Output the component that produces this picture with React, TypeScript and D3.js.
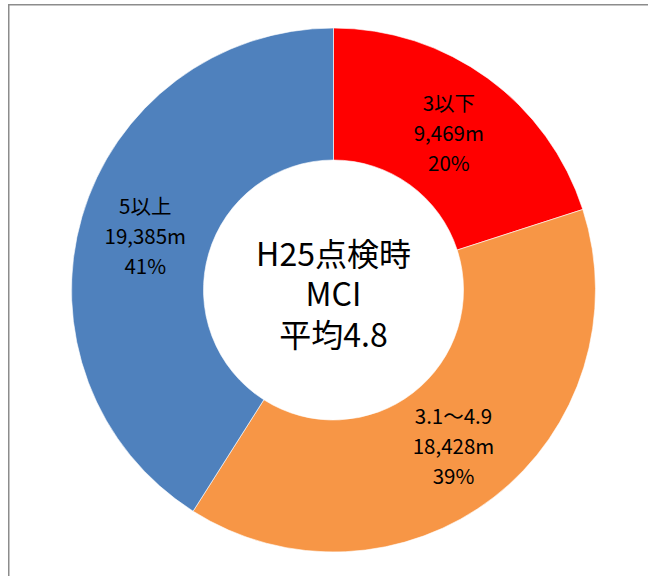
import React, { useRef, useEffect } from 'react';
import * as d3 from 'd3';

interface Slice {
  label: string;
  length: number;
  percent: string;
  color: string;
}

// MCI buckets, clockwise from 12 o'clock
const categories = ['3以下', '3.1～4.9', '5以上'];
const lengths = [9469, 18428, 19385];
const percents = ['20%', '39%', '41%'];
const colors = ['#FF0000', '#F79646', '#4F81BD'];
const centerLines = ['H25点検時', 'MCI', '平均4.8'];

const slices: Slice[] = categories.map((c, i) => ({
  label: c,
  length: lengths[i],
  percent: percents[i],
  color: colors[i]
}));

const W = 648;
const H = 576;
const FONT = "'Noto Sans CJK JP', sans-serif";

const App: React.FC = () => {
  const svgRef = useRef<SVGSVGElement | null>(null);

  useEffect(() => {
    const svg = d3.select(svgRef.current);
    svg.selectAll('*').remove();

    // chart frame (runs off the right/bottom of the window)
    svg.append('rect')
      .attr('x', 8.75)
      .attr('y', 4.75)
      .attr('width', 800)
      .attr('height', 800)
      .attr('fill', 'none')
      .attr('stroke', '#8c8c8c')
      .attr('stroke-width', 1.5);

    const cx = 333.5;
    const cy = 290;
    const outer = 262;
    const inner = 130;

    const pie = d3.pie<Slice>().sort(null).value(d => d.length);
    const arc = d3.arc<d3.PieArcDatum<Slice>>().innerRadius(inner).outerRadius(outer);

    const g = svg.append('g').attr('transform', `translate(${cx},${cy})`);
    const arcs = pie(slices);

    g.selectAll('path.slice')
      .data(arcs)
      .enter()
      .append('path')
      .attr('class', 'slice')
      .attr('d', arc)
      .attr('fill', d => d.data.color)
      .attr('stroke', '#ffffff')
      .attr('stroke-width', 0.6);

    // slice labels at ring centroid
    arcs.forEach(a => {
      const [x, y] = arc.centroid(a);
      const lines = [a.data.label, `${d3.format(',')(a.data.length)}m`, a.data.percent];
      lines.forEach((t, i) => {
        g.append('text')
          .attr('x', x)
          .attr('y', y + (i - 1) * 30)
          .attr('text-anchor', 'middle')
          .attr('dominant-baseline', 'central')
          .style('font-family', FONT)
          .style('font-size', '20.5px')
          .style('fill', '#000')
          .text(t);
      });
    });

    // centre caption
    centerLines.forEach((t, i) => {
      g.append('text')
        .attr('x', 0)
        .attr('y', (i - 1) * 40.5 + 2)
        .attr('text-anchor', 'middle')
        .attr('dominant-baseline', 'central')
        .style('font-family', FONT)
        .style('font-size', '32px')
        .style('fill', '#000')
        .text(t);
    });
  }, []);

  return (
    <svg
      ref={svgRef}
      width={W}
      height={H}
      style={{ position: 'fixed', left: 0, top: 0, background: '#fff' }}
    />
  );
};

export default App;
